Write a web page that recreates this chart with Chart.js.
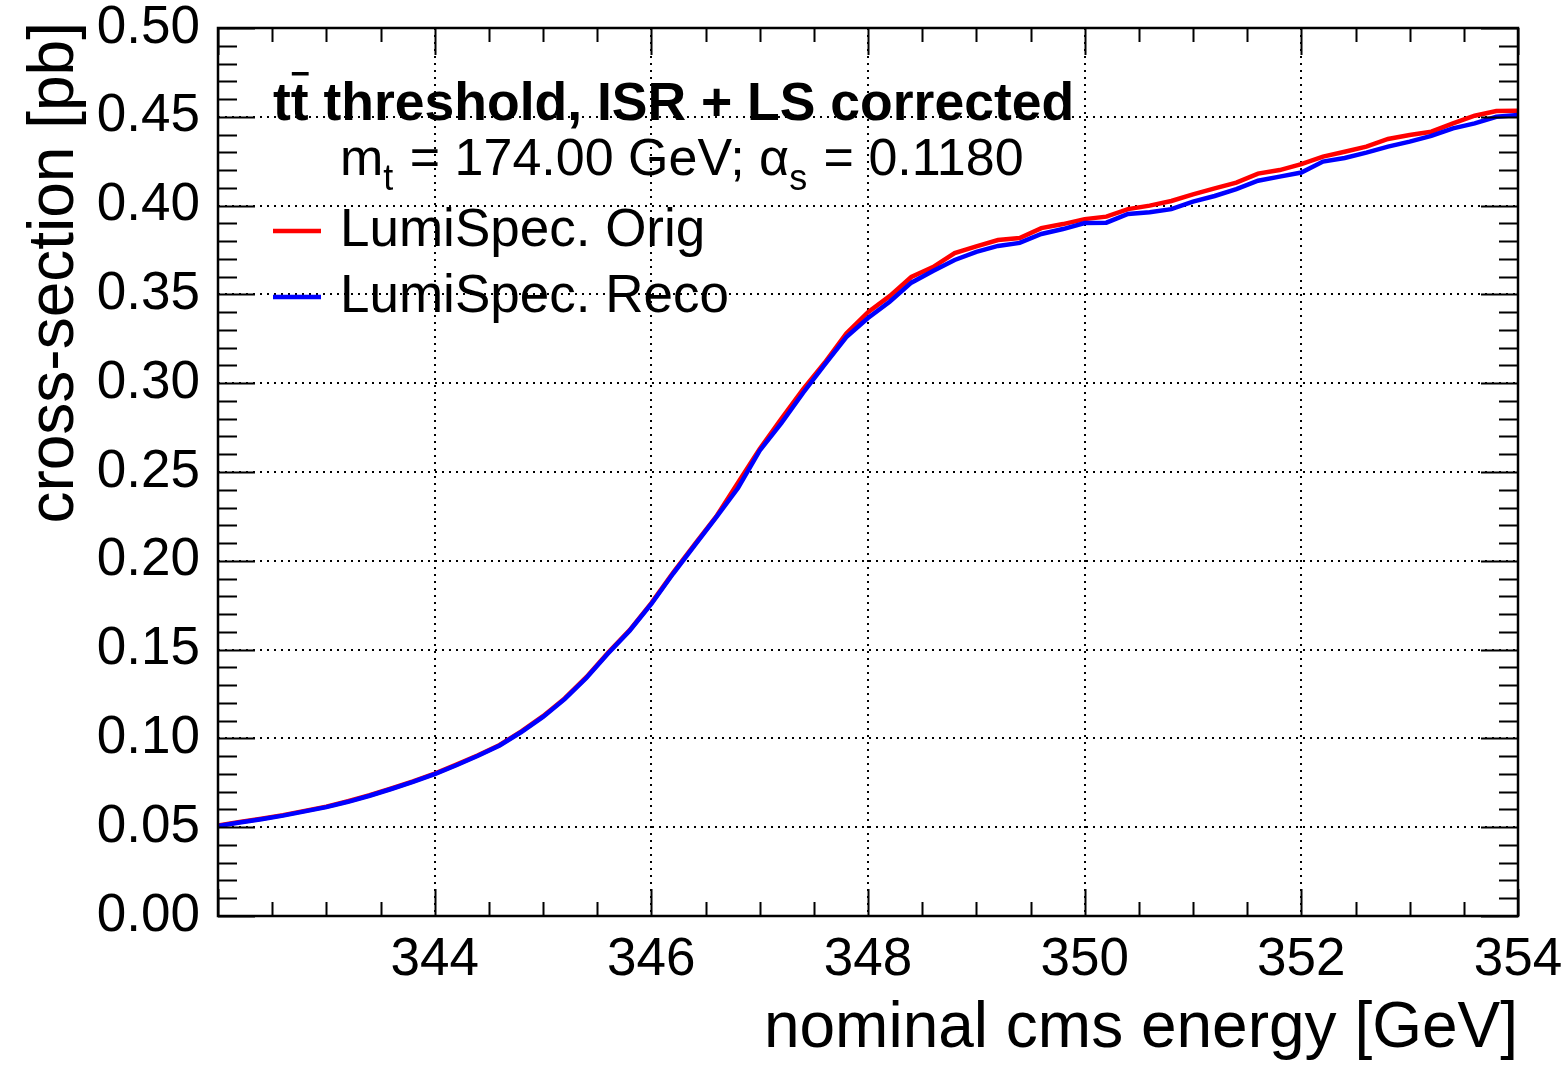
<!DOCTYPE html>
<html>
<head>
<meta charset="utf-8">
<script src="https://cdn.jsdelivr.net/npm/chart.js@4.4.1/dist/chart.umd.min.js"></script>
<style>
  html, body { margin: 0; padding: 0; background: #fff; }
  canvas { display: block; }
</style>
</head>
<body>
<canvas id="xsec" width="1561" height="1066"></canvas>
<script>
// nominal cms energy [GeV], one point every 0.2 GeV
const ENERGY = [
  342.0, 342.2, 342.4, 342.6, 342.8, 343.0, 343.2, 343.4, 343.6, 343.8,
  344.0, 344.2, 344.4, 344.6, 344.8, 345.0, 345.2, 345.4, 345.6, 345.8,
  346.0, 346.2, 346.4, 346.6, 346.8, 347.0, 347.2, 347.4, 347.6, 347.8,
  348.0, 348.2, 348.4, 348.6, 348.8, 349.0, 349.2, 349.4, 349.6, 349.8,
  350.0, 350.2, 350.4, 350.6, 350.8, 351.0, 351.2, 351.4, 351.6, 351.8,
  352.0, 352.2, 352.4, 352.6, 352.8, 353.0, 353.2, 353.4, 353.6, 353.8,
  354.0
];

// cross-section [pb]
const XS_ORIG = [
  0.0510, 0.0529, 0.0548, 0.0568, 0.0592, 0.0616, 0.0646, 0.0680, 0.0718, 0.0758,
  0.0802, 0.0852, 0.0905, 0.0963, 0.1040, 0.1125, 0.1225, 0.1345, 0.1482, 0.1610,
  0.1762, 0.1932, 0.2092, 0.2250, 0.2440, 0.2630, 0.2800, 0.2965, 0.3115, 0.3280,
  0.3400, 0.3490, 0.3598, 0.3654, 0.3733, 0.3770, 0.3806, 0.3817, 0.3873, 0.3896,
  0.3924, 0.3938, 0.3980, 0.4000, 0.4026, 0.4063, 0.4097, 0.4129, 0.4180, 0.4200,
  0.4233, 0.4276, 0.4303, 0.4332, 0.4375, 0.4397, 0.4416, 0.4463, 0.4506, 0.4533,
  0.4534
];
const XS_RECO = [
  0.0507, 0.0526, 0.0545, 0.0565, 0.0589, 0.0613, 0.0643, 0.0677, 0.0715, 0.0755,
  0.0799, 0.0849, 0.0902, 0.0960, 0.1036, 0.1121, 0.1221, 0.1340, 0.1478, 0.1606,
  0.1757, 0.1927, 0.2087, 0.2246, 0.2410, 0.2620, 0.2775, 0.2945, 0.3105, 0.3260,
  0.3367, 0.3459, 0.3566, 0.3632, 0.3694, 0.3740, 0.3773, 0.3790, 0.3840, 0.3868,
  0.3902, 0.3904, 0.3953, 0.3962, 0.3980, 0.4022, 0.4054, 0.4093, 0.4140, 0.4163,
  0.4186, 0.4248, 0.4268, 0.4298, 0.4332, 0.4360, 0.4393, 0.4435, 0.4463, 0.4500,
  0.4510
];

const SERIES_LABELS = ['LumiSpec. Orig', 'LumiSpec. Reco'];
const X_TICKS = [344, 346, 348, 350, 352, 354];
const X_TICK_LABELS = ['344', '346', '348', '350', '352', '354'];
const Y_TICKS = [0.00, 0.05, 0.10, 0.15, 0.20, 0.25, 0.30, 0.35, 0.40, 0.45, 0.50];
const Y_TICK_LABELS = ['0.00', '0.05', '0.10', '0.15', '0.20', '0.25', '0.30', '0.35', '0.40', '0.45', '0.50'];

const X_MIN = 342, X_MAX = 354;
const Y_MIN = 0, Y_MAX = 0.5;
const FONT = '"Liberation Sans", Arial, Helvetica, sans-serif';
const RED = '#ff0000';
const BLUE = '#0000ff';

const toXY = (xs, ys) => xs.map((x, i) => ({ x, y: ys[i] }));

// ROOT style frame: box + inward ticks on all four sides
const framePlugin = {
  id: 'rootFrame',
  afterDatasetsDraw(chart) {
    const { ctx, chartArea: a, scales } = chart;
    const xs = scales.x, ys = scales.y;
    ctx.save();
    ctx.strokeStyle = '#000';
    ctx.lineWidth = 2;
    ctx.beginPath();
    // x ticks every 0.5 GeV, long ones every 2 GeV
    for (let k = 0; k <= (X_MAX - X_MIN) * 2; k++) {
      const v = X_MIN + k * 0.5;
      const px = Math.round(xs.getPixelForValue(v)) + 0.5;
      const len = (v % 2 === 0) ? 27 : 14;
      ctx.moveTo(px, a.bottom); ctx.lineTo(px, a.bottom - len);
      ctx.moveTo(px, a.top); ctx.lineTo(px, a.top + len);
    }
    // y ticks every 0.01, long ones every 0.05
    for (let k = 0; k <= 50; k++) {
      const py = Math.round(ys.getPixelForValue(k * 0.01)) + 0.5;
      const len = (k % 5 === 0) ? 37 : 19;
      ctx.moveTo(a.left, py); ctx.lineTo(a.left + len, py);
      ctx.moveTo(a.right, py); ctx.lineTo(a.right - len, py);
    }
    ctx.stroke();
    ctx.lineWidth = 2.5;
    ctx.strokeRect(a.left, a.top, a.right - a.left, a.bottom - a.top);
    ctx.restore();
  }
};

// titles, legend and the physics labels
const textPlugin = {
  id: 'rootText',
  afterDraw(chart) {
    const { ctx, chartArea: a } = chart;
    ctx.save();
    ctx.fillStyle = '#000';
    ctx.textBaseline = 'alphabetic';

    // axis titles
    ctx.font = '64px ' + FONT;
    ctx.textAlign = 'right';
    ctx.fillText('nominal cms energy [GeV]', a.right, 1047);
    ctx.save();
    ctx.translate(73, 22);
    ctx.rotate(-Math.PI / 2);
    ctx.fillText('cross-section [pb]', 0, 0);
    ctx.restore();

    ctx.textAlign = 'left';
    // line 1: t tbar threshold ...
    ctx.font = 'bold 53.5px ' + FONT;
    let x = 273;
    const wt = ctx.measureText('t').width;
    ctx.fillText('tt', x, 120);
    ctx.fillRect(x + wt + 1, 72, wt - 1, 3.5);
    x += ctx.measureText('tt').width;
    ctx.fillText(' threshold, ISR + LS corrected', x, 120);

    // line 2: m_t = 174.00 GeV; alpha_s = 0.1180
    const big = '52px ' + FONT, small = '36px ' + FONT;
    const parts = [
      ['m', big, 0], ['t', small, 15], [' = 174.00 GeV; ', big, 0],
      ['\u03b1', big, 0], ['s', small, 15], [' = 0.1180', big, 0]
    ];
    x = 340;
    for (const [s, f, dy] of parts) {
      ctx.font = f;
      ctx.fillText(s, x, 175 + dy);
      x += ctx.measureText(s).width + (dy ? 2 : 0);
    }

    // legend
    const ds = chart.data.datasets;
    const rows = [231, 297];
    ctx.font = '53px ' + FONT;
    ds.forEach((d, i) => {
      const y = rows[i];
      ctx.strokeStyle = d.borderColor;
      ctx.lineWidth = 4.5;
      ctx.beginPath();
      ctx.moveTo(273, y); ctx.lineTo(321, y);
      ctx.stroke();
      ctx.fillText(d.label, 340, y + 15);
    });
    ctx.restore();
  }
};

new Chart(document.getElementById('xsec'), {
  type: 'line',
  data: {
    datasets: [
      {
        label: SERIES_LABELS[0],
        data: toXY(ENERGY, XS_ORIG),
        borderColor: RED,
        borderWidth: 4.5,
        pointRadius: 0,
        tension: 0,
        fill: false,
        order: 2
      },
      {
        label: SERIES_LABELS[1],
        data: toXY(ENERGY, XS_RECO),
        borderColor: BLUE,
        borderWidth: 4.5,
        pointRadius: 0,
        tension: 0,
        fill: false,
        order: 1
      }
    ]
  },
  options: {
    responsive: false,
    animation: false,
    devicePixelRatio: 1,
    layout: { padding: { top: 28, right: 43, bottom: 0, left: 0 } },
    plugins: {
      legend: { display: false },
      tooltip: { enabled: false }
    },
    scales: {
      x: {
        type: 'linear',
        min: X_MIN,
        max: X_MAX,
        afterBuildTicks: (s) => { s.ticks = X_TICKS.map(v => ({ value: v })); },
        afterFit: (s) => { s.height = 150; s.paddingLeft = 0; s.paddingRight = 0; },
        grid: { color: '#000', lineWidth: 2, drawTicks: false },
        border: { display: false, dash: [2, 5] },
        ticks: {
          padding: 13,
          color: '#000',
          font: { family: FONT, size: 53 },
          maxRotation: 0,
          autoSkip: false,
          callback: (v, i) => X_TICK_LABELS[i]
        }
      },
      y: {
        type: 'linear',
        min: Y_MIN,
        max: Y_MAX,
        afterBuildTicks: (s) => { s.ticks = Y_TICKS.map(v => ({ value: v })); },
        afterFit: (s) => { s.width = 218; s.paddingTop = 0; s.paddingBottom = 0; },
        grid: { color: '#000', lineWidth: 2, drawTicks: false },
        border: { display: false, dash: [2, 5] },
        ticks: {
          padding: 18,
          color: '#000',
          font: { family: FONT, size: 53 },
          autoSkip: false,
          callback: (v, i) => Y_TICK_LABELS[i]
        }
      }
    }
  },
  plugins: [framePlugin, textPlugin]
});
</script>
</body>
</html>
